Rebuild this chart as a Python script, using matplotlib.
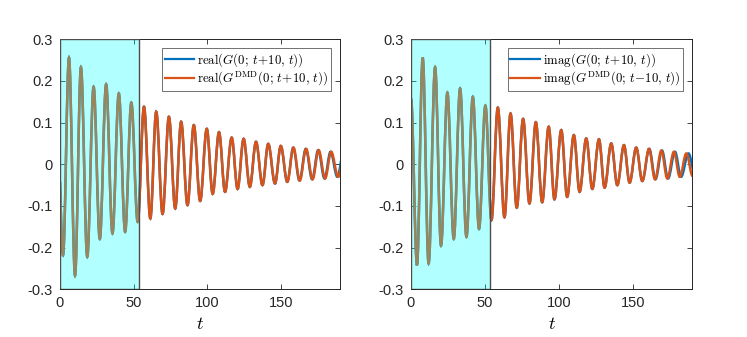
import matplotlib
matplotlib.use('Agg')
import matplotlib.pyplot as plt
from matplotlib.path import Path
from matplotlib.patches import PathPatch, Rectangle

plt.rcParams['font.family'] = ['Liberation Sans', 'DejaVu Sans']
plt.rcParams['mathtext.fontset'] = 'cm'
plt.rcParams['axes.unicode_minus'] = False

# extrema (peaks / troughs), t and value
real_t = [0, 2.05, 6.1, 10.2, 14.2, 18.5, 22.8, 27.0, 31.3, 35.6, 39.9, 44.2, 48.4, 52.7,
          57.0, 61.3, 65.3, 69.6, 73.9, 78.2, 82.2, 86.5, 90.8, 95.1, 99.6, 103.6, 107.9,
          112.0, 116.5, 120.5, 124.6, 128.8, 133.0, 137.4, 141.3, 145.9, 149.8,
          154.3, 158.4, 162.7, 167.0, 171.4, 175.5, 179.9, 184.0, 188.8, 193.0]
real_dmd = [-0.042, -0.218, 0.256, -0.267, 0.233, -0.222, 0.186, -0.179, 0.192, -0.166,
            0.170, -0.162, 0.148, -0.138, 0.138, -0.130, 0.126, -0.119, 0.114, -0.106,
            0.102, -0.098, 0.094, -0.088, 0.085, -0.071, 0.077, -0.066, 0.064, -0.059,
            0.061, -0.054, 0.054, -0.050, 0.049, -0.046, 0.044, -0.042, 0.040, -0.039,
            0.037, -0.036, 0.034, -0.034, 0.030, -0.030, 0.028]
real_true = real_dmd
# the true curve drifts slightly ahead near the end
real_t_true = real_t[:37] + [154.2, 158.3, 162.5, 166.8, 171.1, 175.2, 179.5, 183.6, 188.2, 192.4]

imag_t = [0, 4.06, 7.9, 11.9, 16.3, 20.3, 24.6, 28.9, 33.2, 37.5, 41.8, 46.0, 50.3, 54.4,
          58.7, 63.2, 67.3, 71.5, 75.8, 80.1, 84.4, 88.7, 93.1, 97.0, 101.6, 105.6, 110.1,
          114.0, 118.5, 122.6, 127.1, 130.9, 135.4, 139.5, 144.0, 147.8, 152.3, 156.4,
          160.9, 165.0, 169.3, 173.3, 177.8, 181.7, 186.2, 190.4]
imag_dmd = [0.157, -0.242, 0.256, -0.238, 0.233, -0.195, 0.172, -0.179, 0.182, -0.174,
            0.162, -0.155, 0.141, -0.134, 0.136, -0.127, 0.122, -0.104, 0.109, -0.094,
            0.101, -0.091, 0.090, -0.084, 0.082, -0.078, 0.070, -0.066, 0.062, -0.059,
            0.060, -0.056, 0.050, -0.050, 0.046, -0.044, 0.040, -0.040, 0.037, -0.036,
            0.033, -0.034, 0.030, -0.030, 0.026, -0.028]
imag_true = imag_dmd
imag_t_true = imag_t[:38] + [161.1, 165.3, 169.7, 173.8, 178.5, 182.6, 187.6, 192.3]

train_end = 53.6
x_ticks = [0, 50, 100, 150]
y_ticks = [-0.3, -0.2, -0.1, 0, 0.1, 0.2, 0.3]
y_tick_labels = ['-0.3', '-0.2', '-0.1', '0', '0.1', '0.2', '0.3']

blue = (0, 0.447, 0.741)
orange = (0.85, 0.325, 0.098)


def wave_path(ts, vs, start_pull=0.0, k=0.36):
    # smooth half-cosine like bezier between consecutive extrema
    verts = [(ts[0], vs[0])]
    codes = [Path.MOVETO]
    for i in range(1, len(ts)):
        t0, v0, t1, v1 = ts[i - 1], vs[i - 1], ts[i], vs[i]
        dt = t1 - t0
        c1y = v0 + start_pull * (v1 - v0) if i == 1 else v0
        verts += [(t0 + k * dt, c1y), (t1 - k * dt, v1), (t1, v1)]
        codes += [Path.CURVE4] * 3
    return Path(verts, codes)


def draw_panel(ax, t_true, v_true, t_dmd, v_dmd, labels, start_pull):
    ax.add_patch(PathPatch(wave_path(t_true, v_true, start_pull), fill=False,
                           edgecolor=blue, lw=1.8, zorder=2))
    ax.add_patch(PathPatch(wave_path(t_dmd, v_dmd, start_pull), fill=False,
                           edgecolor=orange, lw=1.8, zorder=2))
    ax.add_patch(Rectangle((0, -0.3), train_end, 0.6, facecolor=(0, 1, 1, 0.3),
                           edgecolor='0.3', lw=1.0, zorder=3))
    ax.plot([], [], color=blue, lw=1.6, label=labels[0])
    ax.plot([], [], color=orange, lw=1.6, label=labels[1])
    ax.set_xlim(0, 190)
    ax.set_ylim(-0.3, 0.3)
    ax.set_xticks(x_ticks)
    ax.set_yticks(y_ticks)
    ax.set_yticklabels(y_tick_labels)
    ax.tick_params(direction='in', top=True, right=True, length=3.5, width=0.6,
                   labelsize=10.5, colors='0.15', pad=5)
    for s in ax.spines.values():
        s.set_color('0.15')
        s.set_linewidth(0.7)
    ax.set_xlabel('$t$', fontsize=13, labelpad=4)
    leg = ax.legend(loc='upper right', fontsize=9.3, fancybox=False, framealpha=1,
                    edgecolor='0.35', handlelength=2.3, handletextpad=0.2,
                    borderpad=0.2, labelspacing=0.1, borderaxespad=0.7)
    leg.get_frame().set_linewidth(0.6)


fig = plt.figure(figsize=(7.47, 3.37), dpi=100)
ax1 = fig.add_axes([60 / 747, 47.7 / 337, 280 / 747, 250 / 337])
ax2 = fig.add_axes([411 / 747, 47.7 / 337, 281 / 747, 250 / 337])

draw_panel(ax1, real_t_true, real_true, real_t, real_dmd,
           [r'$\mathrm{real}(G(0;\,t\!+\!10,\,t))$',
            r'$\mathrm{real}(G^{\mathrm{DMD}}(0;\,t\!+\!10,\,t))$'], 0.52)
draw_panel(ax2, imag_t_true, imag_true, imag_t, imag_dmd,
           [r'$\mathrm{imag}(G(0;\,t\!+\!10,\,t))$',
            r'$\mathrm{imag}(G^{\mathrm{DMD}}(0;\,t\!-\!10,\,t))$'], 0.0)

fig.savefig('out.png', dpi=100)
